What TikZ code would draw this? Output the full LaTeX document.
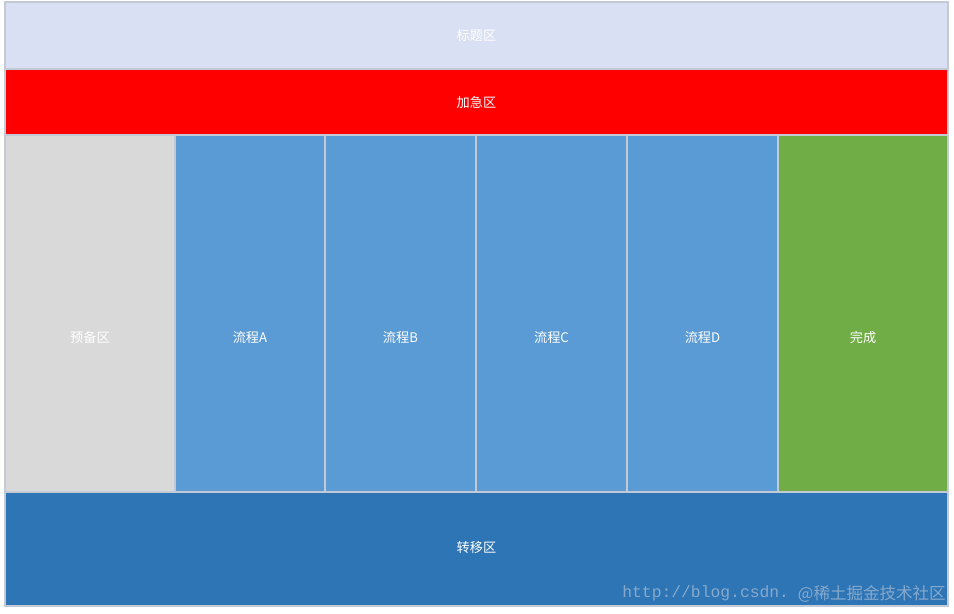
\documentclass[tikz,border=0pt]{standalone}
\usepackage{fontspec}
\setmonofont{Liberation Mono}
\newfontfamily\cjk{Noto Sans CJK SC}
\definecolor{titlefill}{HTML}{DAE0F3}
\definecolor{rushfill}{HTML}{FF0000}
\definecolor{readyfill}{HTML}{D9D9D9}
\definecolor{flowfill}{HTML}{5B9BD5}
\definecolor{donefill}{HTML}{70AD47}
\definecolor{movefill}{HTML}{2E75B6}
\definecolor{edgeline}{HTML}{C3CAD6}
\definecolor{markgray}{HTML}{86A9CC}

\begin{document}
\begin{tikzpicture}[x=0.02cm, y=-0.02cm,
	zone/.style={draw=edgeline, line width=0.6pt},
	zonetext/.style={text=white, font=\cjk\fontsize{7.5}{9}\selectfont}]
		
		\useasboundingbox (0, 0) rectangle (954, 613);
		
		% top bands
		\draw [zone, fill=titlefill] (5, 2) rectangle (948, 69);
		\draw [zone, fill=rushfill] (5, 69) rectangle (948, 135);
		\node [zonetext] (title) at (476.5, 35) {标题区};
		\node [zonetext] (rush) at (476.5, 102) {加急区};
		
		% columns
		\draw [zone, fill=readyfill] (5, 135) rectangle (175, 492);
		\draw [zone, fill=flowfill] (175, 135) rectangle (325, 492);
		\draw [zone, fill=flowfill] (325, 135) rectangle (476, 492);
		\draw [zone, fill=flowfill] (476, 135) rectangle (627, 492);
		\draw [zone, fill=flowfill] (627, 135) rectangle (778, 492);
		\draw [zone, fill=donefill] (778, 135) rectangle (948, 492);
		\node [zonetext] (ready) at (90, 337) {预备区};
		\node [zonetext] (flowA) at (250, 337) {流程A};
		\node [zonetext] (flowB) at (400.5, 337) {流程B};
		\node [zonetext] (flowC) at (551.5, 337) {流程C};
		\node [zonetext] (flowD) at (702.5, 337) {流程D};
		\node [zonetext] (done) at (863, 337) {完成};
		
		% bottom band
		\draw [zone, fill=movefill] (5, 492) rectangle (948, 606);
		\node [zonetext] (move) at (476.5, 548) {转移区};
		
		% watermark
		\node [anchor=west, text=markgray, font=\ttfamily\fontsize{9.3}{10}\selectfont, inner sep=0] (url) at (622, 593) {http://blog.csdn.};
		\node [anchor=east, text=markgray, font=\cjk\fontsize{9.4}{10}\selectfont, inner sep=0] (site) at (946, 594) {@稀土掘金技术社区};
		
		\end{tikzpicture}
\end{document}
